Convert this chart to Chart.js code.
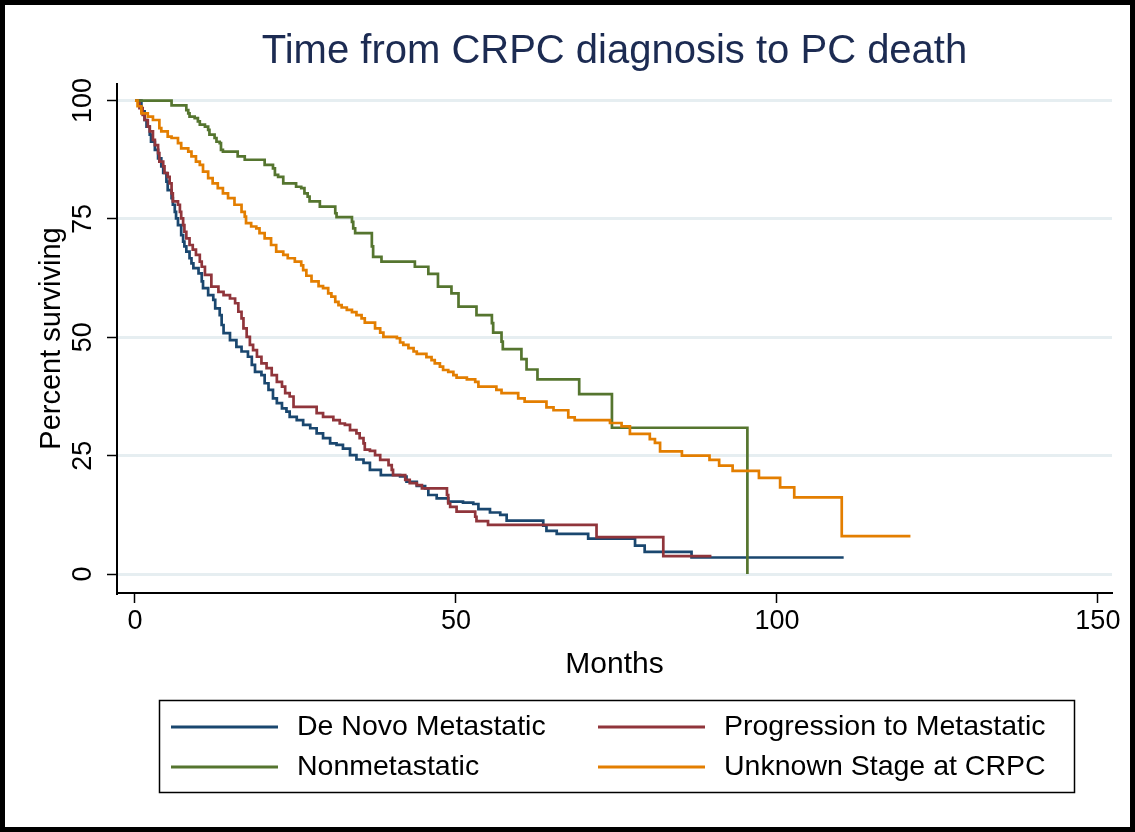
<!DOCTYPE html>
<html>
<head>
<meta charset="utf-8">
<title>Time from CRPC diagnosis to PC death</title>
<script src="https://cdn.jsdelivr.net/npm/chart.js@4.4.1/dist/chart.umd.min.js"></script>
<style>
  html, body { margin: 0; padding: 0; background: #fff; }
  #wrap { width: 1135px; height: 832px; }
</style>
</head>
<body>
<div id="wrap"><canvas id="km" width="1135" height="832"></canvas></div>
<script>
// Kaplan-Meier curves, values (months, percent surviving)
const xTicks = [0, 50, 100, 150];
const yTicks = [0, 25, 50, 75, 100];

const seriesNames = ['De Novo Metastatic', 'Progression to Metastatic', 'Nonmetastatic', 'Unknown Stage at CRPC'];

const deNovoMonths = [0, 1.0, 1.5, 1.8, 2.3, 2.5, 3.1, 3.6, 4.1, 4.4, 4.9, 5.1, 5.7, 5.9, 6.2, 6.4, 6.7, 7.2, 7.5, 7.7,
  8.0, 8.5, 8.8, 9.1, 9.9, 10.4, 10.6, 11.4, 12.2, 12.5, 13.2, 13.5, 13.8, 14.8, 15.8, 16.6, 17.6, 18.2, 18.7, 19.7,
  20.2, 20.8, 21.5, 22.1, 22.9, 23.6, 24.1, 25.2, 26.2, 27.3, 28.3, 29.3, 30.4, 31.4, 32.4, 33.5, 34.5, 35.6, 36.6, 38.3,
  41.3, 42.3, 43.9, 45.2, 45.7, 47.0, 48.8, 51.1, 52.7, 53.5, 55.3, 56.9, 57.9, 63.6, 64.1, 65.7, 70.6, 77.9, 79.4, 86.7,
  110.4];
const deNovoPct = [100, 97.7, 95.9, 94.5, 92.8, 91.3, 89.6, 87.8, 86.1, 84.7, 82.9, 81.1, 79.4, 78.0, 76.5, 75.1, 73.7, 71.6, 70.2, 69.2,
  68.1, 66.7, 65.6, 64.6, 63.5, 61.8, 60.4, 58.9, 57.9, 56.1, 54.7, 52.6, 50.9, 49.4, 48.0, 47.0, 45.9, 44.2, 42.7, 42.0,
  40.3, 38.9, 37.1, 36.1, 35.0, 34.3, 33.2, 32.5, 31.5, 30.8, 29.7, 28.7, 27.6, 27.3, 26.5, 25.1, 24.2, 23.5, 22.0, 20.9,
  20.6, 19.5, 18.6, 18.1, 16.7, 16.0, 15.3, 15.1, 14.8, 13.7, 13.0, 12.5, 11.3, 10.2, 9.1, 8.5, 7.5, 6.0, 4.7, 3.5,
  3.5];

const progMonths = [0, 0.7, 1.2, 1.5, 2.0, 2.3, 2.8, 3.1, 3.6, 3.8, 4.4, 4.6, 5.1, 5.4, 5.7, 5.9, 6.7, 7.0, 7.2, 7.5,
  7.7, 8.0, 8.5, 9.0, 9.5, 10.1, 10.4, 10.9, 11.9, 13.0, 13.8, 14.8, 15.6, 16.1, 16.6, 16.9, 17.4, 17.9, 18.4, 19.0,
  19.7, 20.5, 21.3, 22.1, 22.9, 23.4, 24.1, 24.7, 28.3, 29.3, 30.9, 31.9, 32.7, 33.5, 34.5, 35.0, 35.6, 35.8, 36.6, 37.4,
  38.2, 39.5, 40.0, 40.2, 42.1, 42.8, 43.9, 44.7, 48.6, 48.8, 49.1, 50.1, 53.0, 53.2, 55.0, 71.9, 82.3, 89.8];
const progPct = [100, 98.4, 97.0, 95.9, 94.5, 93.5, 91.7, 90.6, 88.9, 87.1, 86.1, 84.7, 83.9, 82.5, 80.4, 78.7, 78.0, 76.5, 75.1, 73.7,
  72.3, 70.9, 69.5, 68.5, 67.4, 66.0, 64.9, 63.2, 60.7, 59.6, 58.9, 58.2, 57.2, 55.4, 54.0, 51.9, 50.1, 48.4, 47.3, 45.9,
  44.5, 43.5, 42.0, 40.6, 39.6, 38.2, 37.5, 35.3, 34.0, 33.2, 32.5, 31.8, 31.5, 30.4, 29.7, 28.7, 27.6, 26.3, 26.0, 25.1,
  24.1, 23.0, 22.0, 20.9, 19.9, 19.2, 18.8, 18.1, 16.7, 14.9, 14.2, 13.2, 12.1, 11.2, 10.4, 7.8, 3.8, 3.8];

const nonmetMonths = [0, 5.7, 8.0, 8.3, 8.5, 9.3, 9.8, 10.1, 10.9, 11.4, 11.6, 12.4, 12.7, 13.2, 13.4, 13.7, 16.0, 17.1, 20.2, 21.5,
  21.8, 22.3, 23.1, 25.1, 25.9, 26.4, 26.9, 27.2, 28.8, 31.2, 31.4, 33.8, 34.0, 34.3, 36.9, 37.1, 38.4, 43.6, 45.7, 47.2,
  49.3, 50.4, 53.2, 55.6, 55.8, 57.1, 57.3, 60.2, 61.0, 62.7, 69.2, 74.3, 95.4];
const nonmetPct = [100, 99.0, 98.0, 97.3, 96.6, 96.3, 95.6, 94.9, 94.5, 93.8, 92.8, 92.1, 91.3, 91.0, 89.6, 89.2, 88.2, 87.5, 86.4, 85.7,
  84.3, 83.9, 82.5, 81.8, 81.5, 80.4, 79.7, 78.7, 77.6, 76.2, 75.4, 74.4, 73.0, 72.0, 69.2, 67.0, 66.0, 64.9, 63.4, 60.7,
  59.3, 56.5, 54.7, 53.0, 51.0, 49.1, 47.5, 45.4, 43.2, 41.1, 38.0, 30.9, 0];

const unknownMonths = [0, 0.4, 1.0, 2.0, 2.8, 3.8, 4.1, 5.1, 5.7, 6.7, 7.2, 8.3, 8.8, 9.5, 10.1, 10.6, 11.4, 12.1, 12.9, 13.7,
  14.5, 15.5, 16.6, 17.1, 17.3, 18.1, 18.9, 19.4, 20.2, 21.2, 22.0, 23.1, 23.8, 24.9, 25.9, 26.2, 26.7, 27.5, 28.6, 29.3,
  30.1, 30.6, 31.2, 31.7, 32.2, 33.0, 33.8, 34.5, 35.3, 35.8, 37.4, 38.2, 38.7, 40.8, 41.3, 41.8, 42.6, 43.4, 43.9, 45.4,
  46.2, 46.7, 47.5, 48.0, 48.8, 49.6, 50.1, 51.7, 53.0, 53.5, 56.3, 57.1, 59.7, 60.7, 64.1, 65.2, 67.5, 68.5, 74.0, 75.8,
  77.1, 80.2, 81.0, 81.8, 85.2, 89.5, 91.0, 93.1, 97.2, 100.5, 102.7, 110.1, 120.8];
const unknownPct = [100, 98.8, 97.3, 96.6, 95.9, 94.2, 93.5, 92.4, 92.1, 91.0, 89.9, 89.2, 88.2, 87.1, 86.4, 85.0, 83.6, 82.5, 81.5, 80.4,
  79.4, 78.0, 76.5, 75.5, 74.1, 73.4, 73.0, 72.0, 70.9, 69.5, 68.1, 67.4, 66.7, 66.0, 65.2, 64.2, 63.0, 61.8, 60.8, 60.4,
  59.3, 58.6, 57.5, 56.8, 56.3, 55.8, 55.3, 54.7, 54.0, 53.1, 51.9, 51.0, 50.1, 49.8, 48.9, 48.4, 47.7, 47.0, 46.5, 45.8,
  45.2, 44.5, 43.8, 43.1, 42.7, 42.0, 41.5, 41.1, 40.6, 39.6, 38.9, 38.2, 37.1, 36.4, 35.2, 34.6, 33.1, 32.5, 31.9, 31.2,
  29.6, 28.5, 27.7, 25.9, 25.0, 24.1, 22.9, 21.8, 20.3, 18.3, 16.2, 8.0, 8.0];

const FONT = "'Liberation Sans', Arial, sans-serif";

function points(months, pct) {
  return months.map((m, i) => ({ x: m, y: pct[i] }));
}

function curve(label, months, pct, color, order) {
  return {
    label: label,
    data: points(months, pct),
    borderColor: color,
    backgroundColor: color,
    borderWidth: 2.7,
    stepped: 'before',   // horizontal then drop, like a KM step
    pointRadius: 0,
    fill: false,
    order: order
  };
}

// legend box + outer frame, drawn after the chart
const frameAndKey = {
  id: 'frameAndKey',
  afterDraw(chart) {
    const ctx = chart.ctx;
    ctx.save();
    ctx.strokeStyle = '#000';
    ctx.lineWidth = 1.5;
    ctx.strokeRect(159.5, 700.5, 915, 92);

    const cols = [171, 598];
    const rows = [727, 767];
    ctx.font = '28.5px ' + FONT;
    ctx.textBaseline = 'middle';
    ctx.textAlign = 'left';
    chart.data.datasets.forEach((ds, i) => {
      const x = cols[i % 2], y = rows[Math.floor(i / 2)];
      ctx.strokeStyle = ds.borderColor;
      ctx.lineWidth = 3;
      ctx.beginPath();
      ctx.moveTo(x, y);
      ctx.lineTo(x + 107, y);
      ctx.stroke();
      ctx.fillStyle = '#000';
      ctx.fillText(ds.label, x + 126, y);
    });

    ctx.lineWidth = 5;
    ctx.strokeStyle = '#000';
    ctx.strokeRect(2.5, 2.5, 1130, 827);
    ctx.restore();
  }
};

new Chart(document.getElementById('km'), {
  type: 'line',
  data: {
    datasets: [
      curve(seriesNames[0], deNovoMonths, deNovoPct, '#1a476f', 3),
      curve(seriesNames[1], progMonths, progPct, '#90353b', 2),
      curve(seriesNames[2], nonmetMonths, nonmetPct, '#55752f', 1),
      curve(seriesNames[3], unknownMonths, unknownPct, '#e37e00', 0)
    ]
  },
  options: {
    responsive: false,
    animation: false,
    events: [],
    layout: { padding: { left: 5, right: 23, top: 5, bottom: 139 } },
    plugins: {
      legend: { display: false },
      tooltip: { enabled: false },
      title: {
        display: true,
        fullSize: false,
        text: 'Time from CRPC diagnosis to PC death',
        color: '#1c2b52',
        font: { family: FONT, size: 40, weight: 'normal', lineHeight: 1.2 },
        padding: { top: 23, bottom: 8 }
      }
    },
    scales: {
      x: {
        type: 'linear',
        min: -2.8,
        max: 152.2,
        afterBuildTicks: s => { s.ticks = xTicks.map(v => ({ value: v })); },
        afterFit: s => { s.height = 100; s.paddingLeft = 0; s.paddingRight = 0; },
        ticks: {
          color: '#000',
          font: { family: FONT, size: 27 },
          padding: 2,
          maxRotation: 0,
          autoSkip: false
        },
        grid: { drawOnChartArea: false, color: '#000', tickColor: '#000', tickLength: 10, tickWidth: 1.5 },
        border: { display: true, color: '#000', width: 2 },
        title: {
          display: true,
          text: 'Months',
          color: '#000',
          font: { family: FONT, size: 30, lineHeight: 1.2 },
          padding: { top: 0, bottom: 10 }
        }
      },
      y: {
        type: 'linear',
        min: -4,
        max: 103.5,
        afterBuildTicks: s => { s.ticks = yTicks.map(v => ({ value: v })); },
        afterFit: s => { s.width = 112; s.paddingTop = 0; s.paddingBottom = 0; },
        ticks: {
          color: '#000',
          font: { family: FONT, size: 27 },
          padding: 1,
          minRotation: 90,
          maxRotation: 90,
          crossAlign: 'center',
          autoSkip: false
        },
        grid: { color: '#e6eef1', lineWidth: 3, tickColor: '#000', tickLength: 10, tickWidth: 1.5 },
        border: { display: true, color: '#000', width: 2 },
        title: {
          display: true,
          text: 'Percent surviving',
          color: '#000',
          font: { family: FONT, size: 29, lineHeight: 1.2 },
          padding: { top: 30, bottom: 0 }
        }
      }
    }
  },
  plugins: [frameAndKey]
});
</script>
</body>
</html>
